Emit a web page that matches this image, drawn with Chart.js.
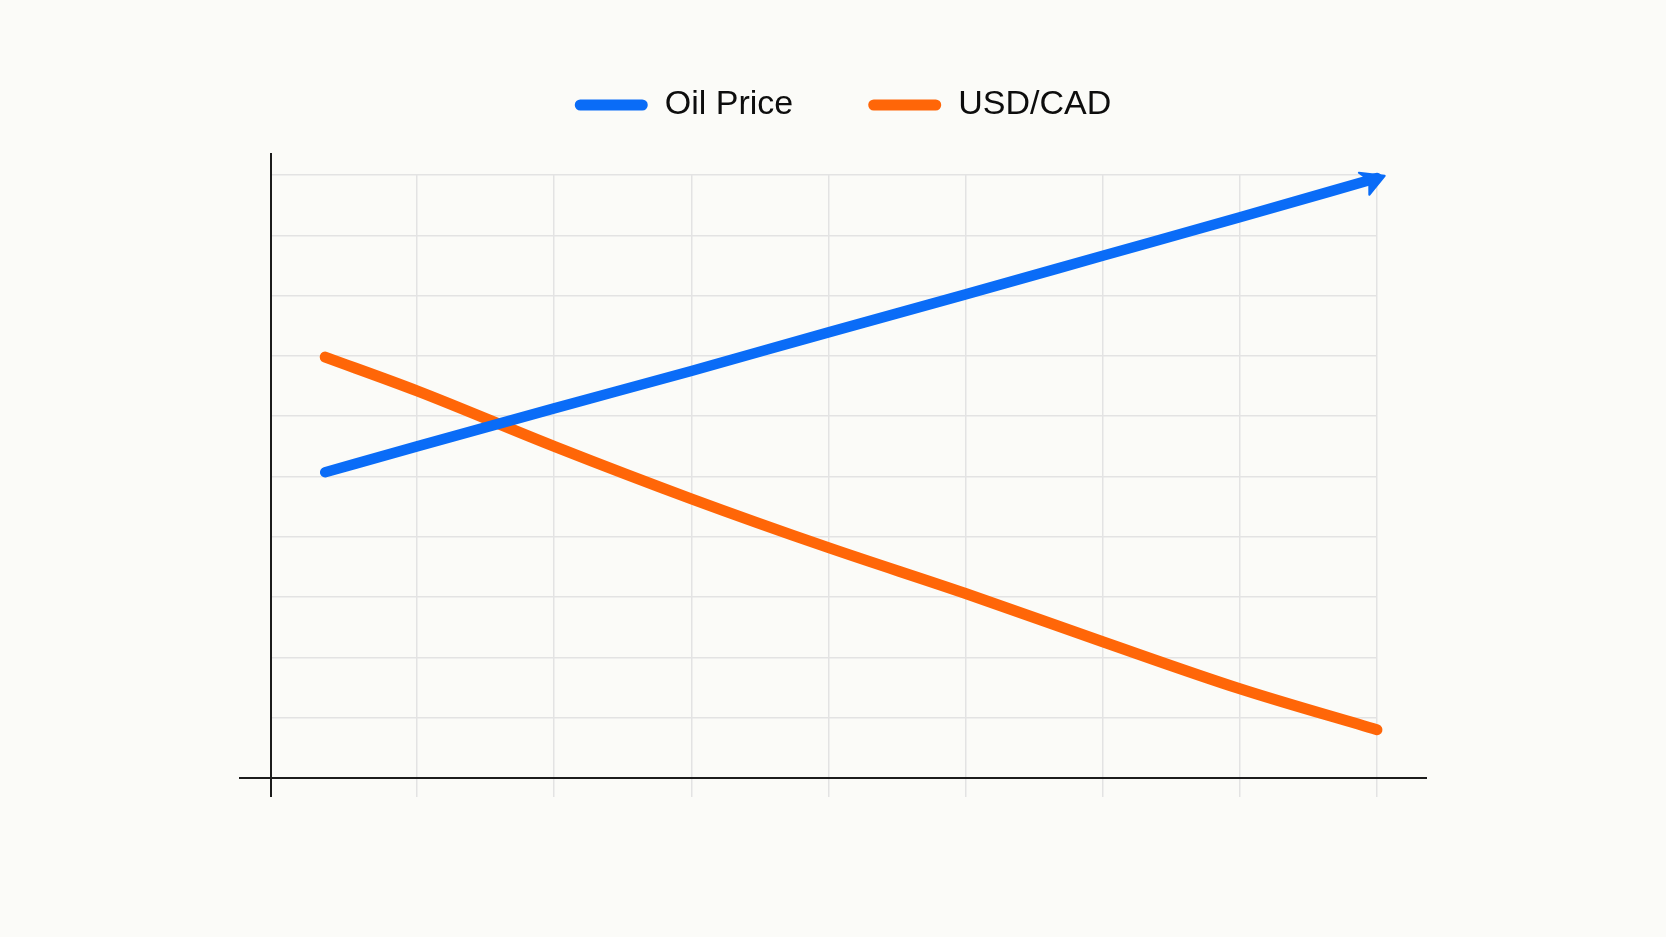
<!DOCTYPE html>
<html lang="en">
<head>
  <meta charset="UTF-8">
  <title>Oil Price vs USD/CAD</title>
  <script src="https://cdn.jsdelivr.net/npm/chart.js"></script>
  <style>
    html, body { margin: 0; padding: 0; background: #fbfbf8; }
    canvas { display: block; }
  </style>
</head>
<body>
<canvas id="oilChart" width="1666" height="937"></canvas>

<script>
  // positions along the (unlabelled) horizontal axis
  var xPositions = [0.33, 1, 2, 3, 4, 5, 6, 7, 8];
  // series (no units shown)
  var oilPrice = [5.07, 5.5, 6.13, 6.75, 7.39, 8.02, 8.66, 9.3, 9.95];
  var usdCad = [6.98, 6.42, 5.5, 4.63, 3.82, 3.06, 2.26, 1.48, 0.8];
  var seriesNames = ['Oil Price', 'USD/CAD'];

  var xMin = -0.065, xMax = 8;
  var yMin = 0, yMax = 10;

  var blue = '#0a6cf7';
  var orange = '#ff6608';
  var gridColor = '#e3e3e3';

  function toPoints(values) {
    return values.map(function(v, i) { return {x: xPositions[i], y: v}; });
  }

  // axis lines that run past the plot area, plus the arrow head on the oil line
  var axesAndArrow = {
    id: 'axesAndArrow',
    afterLayout: function(chart) {
      // move the legend a little to the right and up
      chart.legend.left += 19;
      chart.legend.right += 19;
      chart.legend.top -= 43;
      chart.legend.bottom -= 43;
    },
    beforeDatasetsDraw: function(chart) {
      var ctx = chart.ctx, area = chart.chartArea;
      var x0 = chart.scales.x.getPixelForValue(xMin);
      var y0 = chart.scales.y.getPixelForValue(0);
      ctx.save();
      ctx.strokeStyle = '#1c1c1c';
      ctx.lineWidth = 2;
      ctx.beginPath();
      ctx.moveTo(x0, area.top - 22);
      ctx.lineTo(x0, area.bottom + 19);
      ctx.moveTo(x0 - 32, y0);
      ctx.lineTo(area.right + 50, y0);
      ctx.stroke();
      ctx.restore();
    },
    afterDatasetsDraw: function(chart) {
      var pts = chart.getDatasetMeta(0).data;
      var a = pts[pts.length - 2], b = pts[pts.length - 1];
      var ang = Math.atan2(b.y - a.y, b.x - a.x);
      var ctx = chart.ctx;
      ctx.save();
      ctx.translate(b.x, b.y);
      ctx.rotate(ang);
      ctx.fillStyle = blue;
      ctx.lineJoin = 'round';
      ctx.strokeStyle = blue;
      ctx.lineWidth = 2;
      ctx.beginPath();
      ctx.moveTo(8, 0);
      ctx.lineTo(-16, -10);
      ctx.lineTo(-8, 0);
      ctx.lineTo(-12, 14);
      ctx.closePath();
      ctx.fill();
      ctx.stroke();
      ctx.restore();
    }
  };

  var ctx = document.getElementById('oilChart').getContext('2d');
  new Chart(ctx, {
    type: 'line',
    data: {
      datasets: [{
        label: seriesNames[0],
        data: toPoints(oilPrice),
        borderColor: blue,
        backgroundColor: blue,
        borderWidth: 10.5,
        borderCapStyle: 'round',
        borderJoinStyle: 'round',
        pointRadius: 0,
        cubicInterpolationMode: 'monotone',
        clip: false
      }, {
        label: seriesNames[1],
        data: toPoints(usdCad),
        borderColor: orange,
        backgroundColor: orange,
        borderWidth: 11,
        borderCapStyle: 'round',
        borderJoinStyle: 'round',
        pointRadius: 0,
        cubicInterpolationMode: 'monotone',
        clip: false
      }]
    },
    options: {
      responsive: false,
      animation: false,
      layout: {
        padding: {left: 271, right: 289, top: 56, bottom: 140}
      },
      plugins: {
        tooltip: {enabled: false},
        legend: {
          position: 'top',
          labels: {
            boxWidth: 73,
            boxHeight: 11,
            useBorderRadius: true,
            borderRadius: 5.5,
            padding: 75,
            color: '#0d0d0d',
            font: {family: '"Liberation Sans", Arial, sans-serif', size: 34},
            generateLabels: function(chart) {
              var items = Chart.defaults.plugins.legend.labels.generateLabels(chart);
              items.forEach(function(it) { it.lineWidth = 0; });
              return items;
            }
          }
        }
      },
      scales: {
        x: {
          type: 'linear',
          min: xMin,
          max: xMax,
          ticks: {display: false, stepSize: 1, includeBounds: false},
          border: {display: false},
          grid: {
            lineWidth: 1.5,
            drawTicks: true,
            tickLength: 19,
            color: function(c) { return c.tick && c.tick.value >= 1 ? gridColor : 'rgba(0,0,0,0)'; }
          }
        },
        y: {
          min: yMin,
          max: yMax,
          ticks: {display: false, stepSize: 1, includeBounds: false},
          border: {display: false},
          grid: {
            lineWidth: 1.5,
            drawTicks: false,
            color: function(c) { return c.tick && c.tick.value > 0 ? gridColor : 'rgba(0,0,0,0)'; }
          }
        }
      }
    },
    plugins: [axesAndArrow]
  });
</script>
</body>
</html>
